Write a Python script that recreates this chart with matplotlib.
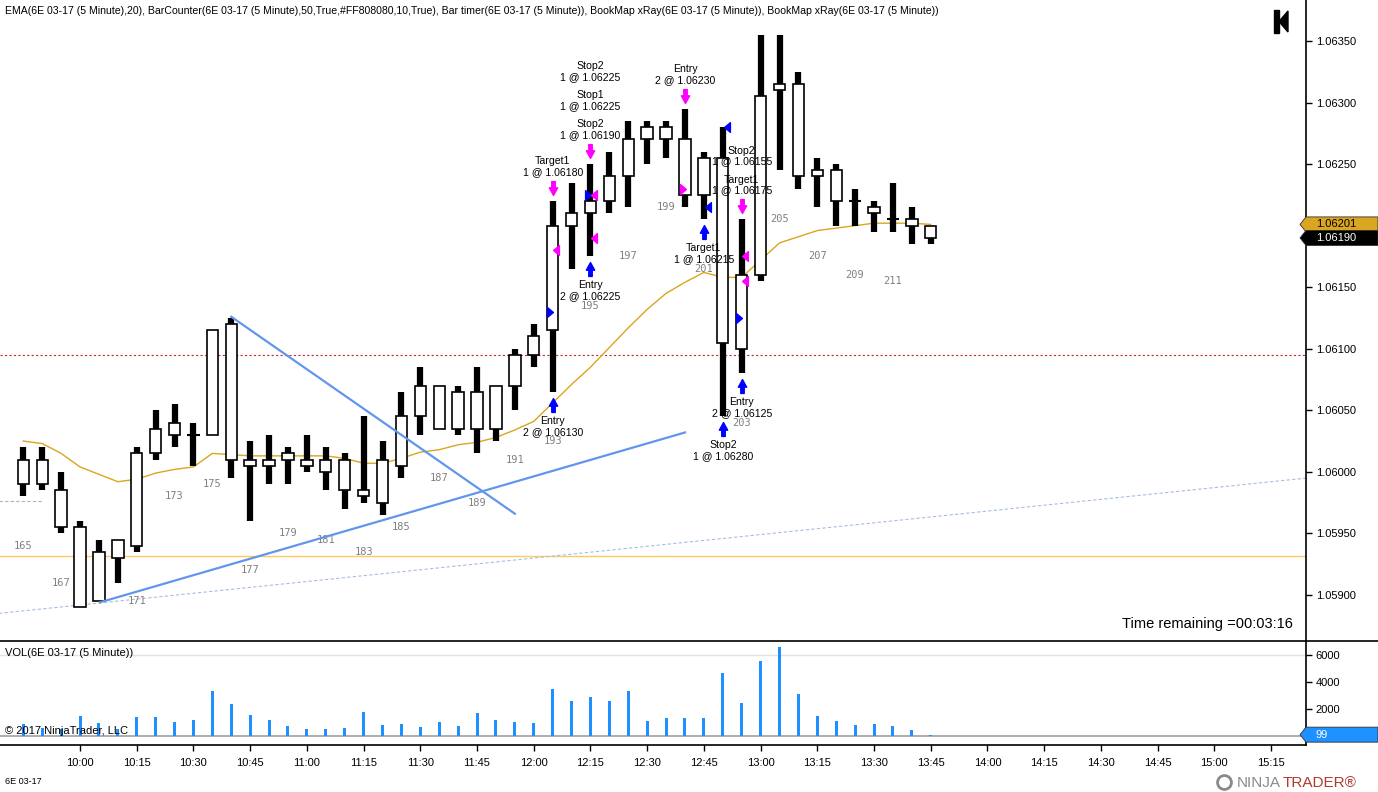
import matplotlib
matplotlib.use('Agg')
import matplotlib.pyplot as plt
from matplotlib.path import Path
from matplotlib.patches import Rectangle, Polygon
from matplotlib.lines import Line2D
from matplotlib.transforms import offset_copy
import numpy as np

plt.rcParams['font.family'] = ['Liberation Sans', 'DejaVu Sans']

# 5 minute bars 09:45 .. 13:45, bar counter starts at 165
first_count = 165
opens = [1.05990, 1.06010, 1.05985, 1.05955, 1.05895, 1.05945, 1.05940, 1.06015, 1.06030, 1.06030,
         1.06030, 1.06120, 1.06010, 1.06005, 1.06010, 1.06010, 1.06010, 1.06010, 1.05985, 1.05975,
         1.06005, 1.06045, 1.06070, 1.06035, 1.06065, 1.06035, 1.06070, 1.06095, 1.06115, 1.06200,
         1.06210, 1.06220, 1.06240, 1.06270, 1.06280, 1.06270, 1.06225, 1.06255, 1.06100, 1.06160,
         1.06310, 1.06315, 1.06240, 1.06245, 1.06220, 1.06215, 1.06205, 1.06205, 1.06200]
highs = [1.06020, 1.06020, 1.06000, 1.05960, 1.05945, 1.05945, 1.06020, 1.06050, 1.06055, 1.06040,
         1.06115, 1.06125, 1.06025, 1.06030, 1.06020, 1.06030, 1.06020, 1.06015, 1.06045, 1.06025,
         1.06065, 1.06085, 1.06070, 1.06070, 1.06085, 1.06070, 1.06100, 1.06120, 1.06220, 1.06235,
         1.06250, 1.06260, 1.06285, 1.06285, 1.06285, 1.06295, 1.06260, 1.06280, 1.06205, 1.06355,
         1.06355, 1.06325, 1.06255, 1.06250, 1.06230, 1.06220, 1.06235, 1.06215, 1.06200]
lows = [1.05980, 1.05985, 1.05950, 1.05890, 1.05895, 1.05910, 1.05935, 1.06010, 1.06020, 1.06005,
        1.06030, 1.05995, 1.05960, 1.05990, 1.05990, 1.06000, 1.05985, 1.05970, 1.05975, 1.05965,
        1.05995, 1.06030, 1.06035, 1.06030, 1.06015, 1.06025, 1.06050, 1.06085, 1.06065, 1.06165,
        1.06175, 1.06210, 1.06215, 1.06250, 1.06255, 1.06215, 1.06205, 1.06045, 1.06080, 1.06155,
        1.06245, 1.06230, 1.06215, 1.06200, 1.06200, 1.06195, 1.06195, 1.06185, 1.06185]
closes = [1.06010, 1.05990, 1.05955, 1.05890, 1.05935, 1.05930, 1.06015, 1.06035, 1.06040, 1.06030,
          1.06115, 1.06010, 1.06005, 1.06010, 1.06015, 1.06005, 1.06000, 1.05985, 1.05980, 1.06010,
          1.06045, 1.06070, 1.06035, 1.06065, 1.06035, 1.06070, 1.06095, 1.06110, 1.06200, 1.06210,
          1.06220, 1.06240, 1.06270, 1.06280, 1.06270, 1.06225, 1.06255, 1.06105, 1.06160, 1.06305,
          1.06315, 1.06240, 1.06245, 1.06220, 1.06220, 1.06210, 1.06205, 1.06200, 1.06190]
ema20 = [1.06025, 1.06023, 1.06015, 1.06004, 1.05998, 1.05992, 1.05994, 1.05999, 1.06002, 1.06004,
         1.06015, 1.06014, 1.06013, 1.06013, 1.06013, 1.06013, 1.06013, 1.06011, 1.06007, 1.06007,
         1.06011, 1.06016, 1.06018, 1.06022, 1.06024, 1.06028, 1.06034, 1.06041, 1.06056, 1.06071,
         1.06085, 1.06101, 1.06117, 1.06132, 1.06145, 1.06154, 1.06162, 1.06158, 1.06158, 1.06172,
         1.06186, 1.06191, 1.06196, 1.06198, 1.06200, 1.06202, 1.06202, 1.06202, 1.06201]
volume = [870, 600, 520, 1480, 960, 520, 1410, 1410, 1040, 1190,
          3330, 2370, 1560, 1190, 740, 520, 520, 590, 1780, 810,
          890, 670, 1040, 740, 1700, 1190, 1040, 960, 3480, 2600,
          2890, 2600, 3330, 1110, 1330, 1330, 1330, 4670, 2440, 5560,
          6590, 3110, 1480, 1110, 810, 890, 740, 440, 99]

time_ticks = [3, 6, 9, 12, 15, 18, 21, 24, 27, 30, 33, 36, 39, 42, 45, 48, 51, 54, 57, 60, 63, 66]
time_labels = ['10:00', '10:15', '10:30', '10:45', '11:00', '11:15', '11:30', '11:45', '12:00', '12:15', '12:30',
               '12:45', '13:00', '13:15', '13:30', '13:45', '14:00', '14:15', '14:30', '14:45', '15:00', '15:15']
price_ticks = [1.05900, 1.05950, 1.06000, 1.06050, 1.06100, 1.06150, 1.06200, 1.06250, 1.06300, 1.06350]
vol_ticks = [2000, 4000, 6000]

# drawn objects
trend_up_x, trend_up_y = [4.05, 35.0], [1.05894, 1.06032]
trend_dn_x, trend_dn_y = [11.0, 26.0], [1.06126, 1.05966]
ray_x, ray_y = [-1.3, 67.9], [1.05885, 1.05995]
stub_x, stub_y = [-1.3, 1.0], [1.05976, 1.05976]
level_red = 1.06095
level_orange = 1.05932
last_ema = 1.06201
last_close = 1.06190

# execution markers
labels_above = {28: ['Target1\n1 @ 1.06180'],
                30: ['Stop2\n1 @ 1.06225', 'Stop1\n1 @ 1.06225', 'Stop2\n1 @ 1.06190'],
                35: ['Entry\n2 @ 1.06230'],
                38: ['Stop2\n1 @ 1.06155', 'Target1\n1 @ 1.06175']}
labels_below = {28: 'Entry\n2 @ 1.06130', 30: 'Entry\n2 @ 1.06225', 36: 'Target1\n1 @ 1.06215',
                37: 'Stop2\n1 @ 1.06280', 38: 'Entry\n2 @ 1.06125'}
arrows_down = [28, 30, 35, 38]
arrows_up = [28, 30, 36, 37, 38]
fills = [(28, 1.06130, 'r', 'b'), (28, 1.06180, 'l', 'm'),
         (30, 1.06225, 'r', 'b'), (30, 1.06225, 'l', 'm'), (30, 1.06190, 'l', 'm'),
         (35, 1.06230, 'r', 'm'), (36, 1.06215, 'l', 'b'), (37, 1.06280, 'l', 'b'),
         (38, 1.06125, 'r', 'b'), (38, 1.06175, 'l', 'm'), (38, 1.06155, 'l', 'm')]

BLUE = '#0000FF'
MAG = '#FF00FF'
W, H = 1378, 792

fig = plt.figure(figsize=(W / 100, H / 100), dpi=100)
ax = fig.add_axes([0, 1 - 641 / H, 1306 / W, 641 / H])
axv = fig.add_axes([0, 1 - 745 / H, 1306 / W, 104 / H])

xs = np.arange(len(opens))
ax.set_xlim(-1.233, 67.85)
ax.set_ylim(1.058626, 1.063833)
axv.set_xlim(-1.233, 67.85)
axv.set_ylim(-667, 7037)

# levels and drawings
ax.axhline(level_red, color='#C03030', lw=0.8, ls=(0, (2, 2)), zorder=1)
ax.axhline(level_orange, color='#FFC860', lw=1, zorder=1)
ax.plot(ray_x, ray_y, color='#A8BEDF', lw=0.8, ls=(0, (3, 2)), zorder=1)
ax.plot(stub_x, stub_y, color='#A8B4C8', lw=0.8, ls=(0, (3, 2)), zorder=1)
ax.plot(ema20, color='#DAA520', lw=1, zorder=2)

# candles
ax.vlines(xs, lows, highs, color='black', lw=4.5, zorder=3)
for i in xs:
    lo, hi = min(opens[i], closes[i]), max(opens[i], closes[i])
    if hi - lo < 1e-7:
        ax.hlines(lo, i - 0.32, i + 0.32, color='black', lw=1.5, zorder=4)
    else:
        ax.add_patch(Rectangle((i - 0.3, lo), 0.6, hi - lo, facecolor='white',
                               edgecolor='black', lw=1.2, zorder=4))

ax.plot(trend_up_x, trend_up_y, color='#6495ED', lw=1.6, zorder=5)
ax.plot(trend_dn_x, trend_dn_y, color='#6495ED', lw=1.6, zorder=5)

# bar counter (labels falling under the panel are not shown)
ymin = ax.get_ylim()[0]
for i in range(0, len(opens) - 1, 2):
    yl = lows[i] - 0.0004
    if yl - 0.00005 < ymin:
        continue
    ax.text(i, yl, str(first_count + i), ha='center', va='center', fontsize=7.5,
            color='#808080', family='DejaVu Sans Mono', zorder=2)

# execution arrows
down_arrow = Path([(-0.25, 1), (0.25, 1), (0.25, 0.1), (0.6, 0.1), (0, -1), (-0.6, 0.1), (-0.25, 0.1), (-0.25, 1)],
                  [Path.MOVETO] + [Path.LINETO] * 6 + [Path.CLOSEPOLY])
up_arrow = Path([(x, -y) for x, y in down_arrow.vertices], down_arrow.codes)
tri_l = Path([(-0.6, 0), (0.6, -1), (0.6, 1), (-0.6, 0)], [Path.MOVETO, Path.LINETO, Path.LINETO, Path.CLOSEPOLY])
tri_r = Path([(0.6, 0), (-0.6, -1), (-0.6, 1), (0.6, 0)], [Path.MOVETO, Path.LINETO, Path.LINETO, Path.CLOSEPOLY])

t_up = offset_copy(ax.transData, fig=fig, x=0, y=13, units='dots')
t_dn = offset_copy(ax.transData, fig=fig, x=0, y=-13, units='dots')
ax.plot(arrows_down, [highs[i] for i in arrows_down], ls='none', marker=down_arrow, ms=10,
        color=MAG, mec=MAG, transform=t_up, zorder=6)
ax.plot(arrows_up, [lows[i] for i in arrows_up], ls='none', marker=up_arrow, ms=10,
        color=BLUE, mec=BLUE, transform=t_dn, zorder=6)

for b, price, side, c in fills:
    col = BLUE if c == 'b' else MAG
    if side == 'r':
        ax.plot(b - 0.12, price, marker=tri_r, ms=7, color=col, mec=col, ls='none', zorder=6)
    else:
        ax.plot(b + 0.2, price, marker=tri_l, ms=7, color=col, mec=col, ls='none', zorder=6)

for b, texts in labels_above.items():
    for k, t in enumerate(reversed(texts)):
        ax.annotate(t, (b, highs[b]), xytext=(0, 24 + 29 * k), textcoords='offset pixels',
                    ha='center', va='bottom', fontsize=7.6, linespacing=1.1, zorder=7)
for b, t in labels_below.items():
    ax.annotate(t, (b, lows[b]), xytext=(0, -24), textcoords='offset pixels',
                ha='center', va='top', fontsize=7.6, linespacing=1.1, zorder=7)

# volume
axv.axhline(6000, color='#E2E2E2', lw=1, zorder=1)
axv.axhline(0, color='#A0A0A0', lw=1.2, zorder=1)
axv.bar(xs, volume, width=0.16, color='#1E90FF', zorder=2)

# axes styling
for a in (ax, axv):
    for s in ('left', 'top', 'bottom'):
        a.spines[s].set_visible(False)
    a.spines['right'].set_linewidth(1.2)
    a.yaxis.tick_right()
    a.tick_params(axis='y', direction='out', length=4, width=1, pad=3, labelsize=8)
    a.patch.set_alpha(0)
ax.set_xticks([])
ax.set_yticks(price_ticks)
ax.set_yticklabels(['%.5f' % p for p in price_ticks])
axv.spines['bottom'].set_visible(True)
axv.spines['bottom'].set_linewidth(1.2)
axv.set_yticks(vol_ticks)
axv.set_yticklabels([str(v) for v in vol_ticks])
axv.set_xticks(time_ticks)
axv.set_xticklabels(time_labels)
axv.tick_params(axis='x', direction='out', length=4, width=1, pad=5, labelsize=8)

fig.add_artist(Line2D([0, 1], [1 - 641 / H, 1 - 641 / H], color='black', lw=1.2, transform=fig.transFigure))

# price tags on right axis
fig.canvas.draw()
def tag(yc, face, text, tcol):
    pts = [(1300, yc), (1306, yc + 7.5), (W, yc + 7.5), (W, yc - 7.5), (1306, yc - 7.5)]
    fig.add_artist(Polygon(pts, closed=True, facecolor=face, edgecolor='#303030', lw=0.6, transform=None))
    fig.text(1316 / W, yc / H, text, color=tcol, fontsize=8, va='center', ha='left')

tag(ax.transData.transform((0, last_ema))[1], '#DAA520', '%.5f' % last_ema, 'black')
tag(ax.transData.transform((0, last_close))[1], 'black', '%.5f' % last_close, 'white')
tag(axv.transData.transform((0, volume[-1]))[1], '#1E90FF', str(volume[-1]), 'white')

# texts
fig.text(5 / W, 1 - 11 / H,
         'EMA(6E 03-17 (5 Minute),20), BarCounter(6E 03-17 (5 Minute),50,True,#FF808080,10,True), '
         'Bar timer(6E 03-17 (5 Minute)), BookMap xRay(6E 03-17 (5 Minute)), BookMap xRay(6E 03-17 (5 Minute))',
         fontsize=7.6, va='center', ha='left')
fig.text(1293 / W, 1 - 624 / H, 'Time remaining =00:03:16', fontsize=10.5, ha='right', va='center')
fig.text(5 / W, 1 - 653 / H, 'VOL(6E 03-17 (5 Minute))', fontsize=8, va='center', ha='left')
fig.text(5 / W, 1 - 731 / H, '\u00a9 2017 NinjaTrader, LLC', fontsize=8, va='center', ha='left')
fig.text(5 / W, 1 - 782 / H, '6E 03-17', fontsize=6.5, va='center', ha='left')
fig.text(1237 / W, 1 - 783 / H, 'NINJA', fontsize=11, color='#8A8A8A', va='center', ha='left')
fig.text(1283 / W, 1 - 783 / H, 'TRADER\u00ae', fontsize=11, color='#B03A2E', va='center', ha='left')
fig.add_artist(Line2D([1224 / W], [1 - 782 / H], marker='o', ms=10, mfc='none', mec='#8A8A8A', mew=2,
                      transform=fig.transFigure))

# back-to-start icon
fig.add_artist(Rectangle((1274 / W, 1 - 33 / H), 5 / W, 23 / H, color='black', transform=fig.transFigure))
fig.add_artist(Polygon([(1279 / W, 1 - 21.5 / H), (1288 / W, 1 - 11 / H), (1288 / W, 1 - 32 / H)],
                       closed=True, color='black', transform=fig.transFigure))

fig.savefig('out.png', dpi=100)
